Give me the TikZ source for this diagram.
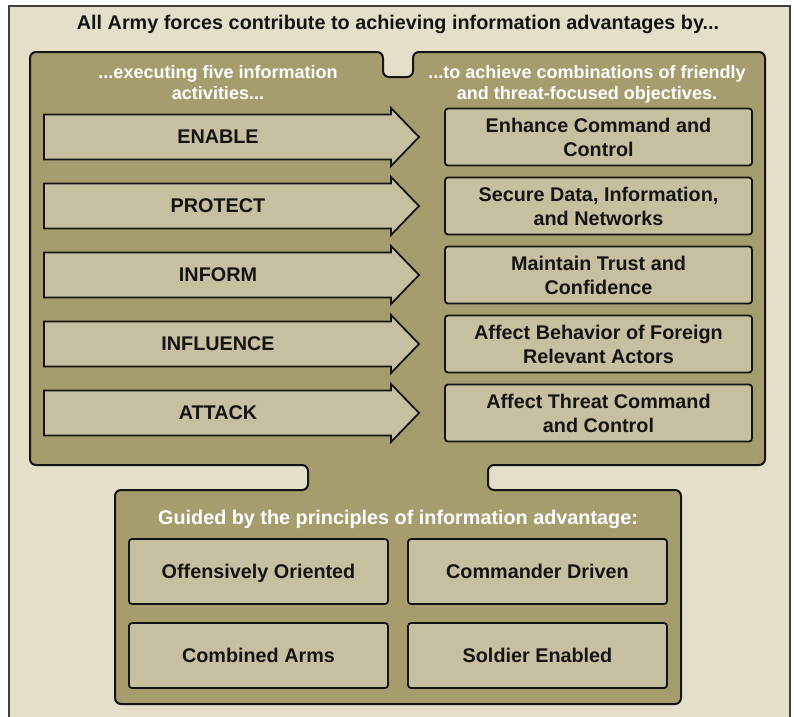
\documentclass[tikz,border=0pt]{standalone}
\usepackage{fontspec}
\setmainfont{Liberation Sans}
\definecolor{pagebg}{RGB}{228,223,201}
\definecolor{olive}{RGB}{165,157,110}
\definecolor{boxfill}{RGB}{199,192,160}
\definecolor{ink}{RGB}{20,20,20}
\tikzset{
  panel/.style={fill=olive, draw=ink, line width=2pt, rounded corners=6pt},
  activity/.style={fill=boxfill, draw=ink, line width=1.8pt, line join=miter},
  goalbox/.style={fill=boxfill, draw=ink, line width=1.8pt, rounded corners=3pt},
  darktext/.style={font=\fontsize{19.8}{24}\selectfont\bfseries, text=ink,
    align=center, text depth=0pt},
  headtext/.style={font=\fontsize{18}{21}\selectfont\bfseries, text=white,
    align=center, text depth=0pt},
  guidetext/.style={font=\fontsize{19.8}{24}\selectfont\bfseries, text=white,
    align=center, text depth=0pt},
}
\begin{document}
\begin{tikzpicture}[x=1pt,y=-1pt]
\useasboundingbox (0,0) rectangle (794,716);
\fill[white] (0,0) rectangle (794,716);
% outer frame
\draw[fill=pagebg, draw=black!75, line width=1.5pt] (9,6) rectangle (790,740);
\node[darktext] (title) at (398,22.5) {All Army forces contribute to achieving information advantages by...};

% combined olive panel with notch and neck
\draw[panel] (30,52) -- (383,52) -- (383,77) -- (413,77) -- (413,52) -- (765,52)
  -- (765,465) -- (488,465) -- (488,490) -- (681,490) -- (681,704) -- (115,704)
  -- (115,490) -- (308,490) -- (308,465) -- (30,465) -- cycle;

\node[headtext] (hleft) at (218,82) {...executing five information\\activities...};
\node[headtext] (hright) at (587,82) {...to achieve combinations of friendly\\and threat-focused objectives.};

% activity arrows and objective boxes
\foreach \cy/\act/\goal/\n in {
  137/ENABLE/{Enhance Command and\\Control}/1,
  206/PROTECT/{Secure Data, Information,\\and Networks}/2,
  275/INFORM/{Maintain Trust and\\Confidence}/3,
  344/INFLUENCE/{Affect Behavior of Foreign\\Relevant Actors}/4,
  413/ATTACK/{Affect Threat Command\\and Control}/5}{
  \draw[activity] (44,\cy-22.5) -- (391,\cy-22.5) -- (391,\cy-29) -- (419,\cy)
    -- (391,\cy+29) -- (391,\cy+22.5) -- (44,\cy+22.5) -- cycle;
  \node[darktext] (act\n) at (218,\cy) {\act};
  \draw[goalbox] (445,\cy-28.5) rectangle (752,\cy+28.5);
  \node[darktext] (goal\n) at (598.5,\cy) {\goal};
}

% principles
\node[guidetext] (guide) at (398,517) {Guided by the principles of information advantage:};
\foreach \x/\y/\txt/\n in {129/539/Offensively Oriented/1, 408/539/Commander Driven/2,
  129/623/Combined Arms/3, 408/623/Soldier Enabled/4}{
  \draw[goalbox] (\x,\y) rectangle (\x+259,\y+65);
  \node[darktext] (prin\n) at (\x+129.5,\y+32.5) {\txt};
}
\end{tikzpicture}
\end{document}
